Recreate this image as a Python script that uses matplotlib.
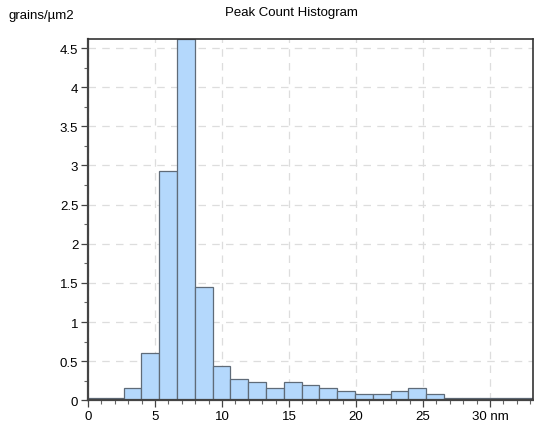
import matplotlib.pyplot as plt
import numpy as np
from matplotlib.ticker import MultipleLocator

plt.rcParams['font.family'] = ['Liberation Sans', 'DejaVu Sans']

# histogram heights (grains/um2) per bin, bin width in nm
densities = [0.03, 0.03, 0.155, 0.61, 2.93, 4.62, 1.45, 0.44, 0.276, 0.233,
             0.155, 0.233, 0.19, 0.155, 0.116, 0.078, 0.078, 0.116, 0.155, 0.078,
             0.03, 0.03, 0.03, 0.03, 0.03]
bin_width = 1.328
xticks = [0, 5, 10, 15, 20, 25, 30]
xtick_labels = ['0', '5', '10', '15', '20', '25', '30 nm']
yticks = [0, 0.5, 1, 1.5, 2, 2.5, 3, 3.5, 4, 4.5]
ytick_labels = ['0', '0.5', '1', '1.5', '2', '2.5', '3', '3.5', '4', '4.5']

fig = plt.figure(figsize=(5.34, 4.31), dpi=100)
ax = fig.add_axes([0.1648, 0.0689, 0.8332, 0.839])

lefts = np.arange(len(densities)) * bin_width
ax.bar(lefts, densities, width=bin_width, align='edge', color='#b4d8fc',
       edgecolor='#5f6b78', linewidth=0.9, zorder=2)

ax.set_xlim(0, len(densities) * bin_width)
ax.set_ylim(0, max(densities))

ax.set_xticks(xticks)
ax.set_xticklabels(xtick_labels)
ax.set_yticks(yticks)
ax.set_yticklabels(ytick_labels)
ax.xaxis.set_minor_locator(MultipleLocator(1))
ax.yaxis.set_minor_locator(MultipleLocator(0.25))

ax.tick_params(which='major', direction='out', length=5, width=0.9, color='#444444',
               labelsize=9.5, labelcolor='black', pad=2)
ax.tick_params(which='minor', direction='out', length=3, width=0.8, color='#666666')

ax.grid(True, which='major', linestyle=(0, (6, 5)), color='#dddddd', linewidth=0.9, zorder=0)
ax.set_axisbelow(True)

for side in ['left', 'bottom']:
    ax.spines[side].set_linewidth(1.6)
    ax.spines[side].set_color('#444444')
for side in ['top', 'right']:
    ax.spines[side].set_linewidth(1.2)
    ax.spines[side].set_color('#333333')

fig.text(0.5466, 0.97, 'Peak Count Histogram', ha='center', va='center', fontsize=9.5)
fig.text(0.015, 0.962, 'grains/µm2', ha='left', va='center', fontsize=9.5)

fig.savefig('out.png', dpi=100)
